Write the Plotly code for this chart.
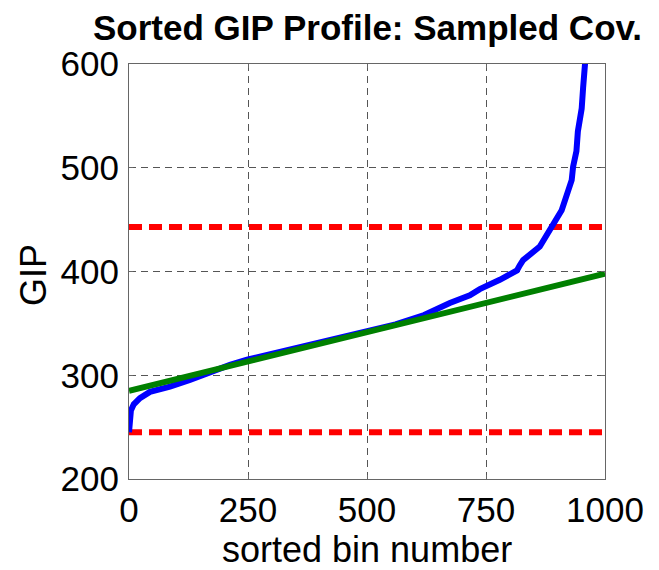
import plotly.graph_objects as go

# ---- data ----
bin_x = [0, 2, 4, 10, 23, 44, 86, 128, 170, 212, 248, 311, 400, 496, 560, 620,
         674, 716, 737, 779, 807, 815, 821, 828, 863, 888, 909, 922, 930, 933,
         940, 943, 951, 954, 958, 965]
gip_sorted = [245, 258, 266, 272, 278, 284, 289, 295.5, 303, 310, 315, 322, 332,
              342, 349, 358, 369.6, 377, 383, 392, 399, 401, 406, 411, 424, 442,
              459, 477, 488, 501, 516, 535, 557, 577, 599, 640]
fit_x = [0, 1000]
fit_y = [285, 398]
limit_x = [0, 1000]
upper_limit = [443, 443]
lower_limit = [245, 245]
x_ticks = [0, 250, 500, 750, 1000]
y_ticks = [200, 300, 400, 500, 600]

FONT = "Liberation Sans, Arial, sans-serif"

# figure geometry (the page body adds an 8px offset)
W, H = 651, 562
L, R, T, B = 121, 54, 56, 91
PW, PH = W - L - R, H - T - B
BOTTOM = H - B  # pixel row of the x axis in figure coords

fig = go.Figure()
for lim in (upper_limit, lower_limit):
    fig.add_trace(go.Scatter(x=limit_x, y=lim, mode="lines",
                             line=dict(color="#ff0000", width=6, dash="13px,7px"),
                             showlegend=False, hoverinfo="skip"))
fig.add_trace(go.Scatter(x=bin_x, y=gip_sorted, mode="lines",
                         line=dict(color="#0000ff", width=6),
                         showlegend=False))
fig.add_trace(go.Scatter(x=fit_x, y=fit_y, mode="lines",
                         line=dict(color="#008000", width=6),
                         showlegend=False))

axis_common = dict(
    showline=True, linecolor="#666666", linewidth=1, mirror="ticks",
    ticks="inside", ticklen=4, tickcolor="#666666",
    showgrid=True, gridcolor="#555555", gridwidth=1, griddash="7px,5px",
    zeroline=False, automargin=False,
    tickfont=dict(family=FONT, size=35, color="#000000"),
)

fig.update_layout(
    width=W, height=H,
    margin=dict(l=L, r=R, t=T, b=B, autoexpand=False),
    paper_bgcolor="white", plot_bgcolor="white",
    xaxis=dict(range=[0, 1000], tickvals=x_ticks, **axis_common),
    yaxis=dict(range=[200, 600], tickvals=y_ticks, ticklabelstandoff=2,
               **axis_common),
    annotations=[
        dict(text="<b>Sorted GIP Profile: Sampled Cov.</b>",
             font=dict(family=FONT, size=35, color="#000000"),
             xref="paper", yref="paper", showarrow=False,
             x=0.5, xanchor="center",
             y=(BOTTOM - 20) / PH, yanchor="middle"),
        dict(text="sorted bin number",
             font=dict(family=FONT, size=36, color="#000000"),
             xref="paper", yref="paper", showarrow=False,
             x=0.5, xanchor="center",
             y=-(541 - BOTTOM) / PH, yanchor="middle"),
        dict(text="GIP", textangle=-90,
             font=dict(family=FONT, size=36, color="#000000"),
             xref="paper", yref="paper", showarrow=False,
             x=(25 - L) / PW, xanchor="center",
             y=(BOTTOM - 267) / PH, yanchor="middle"),
    ],
)

fig.write_html("out.html")
